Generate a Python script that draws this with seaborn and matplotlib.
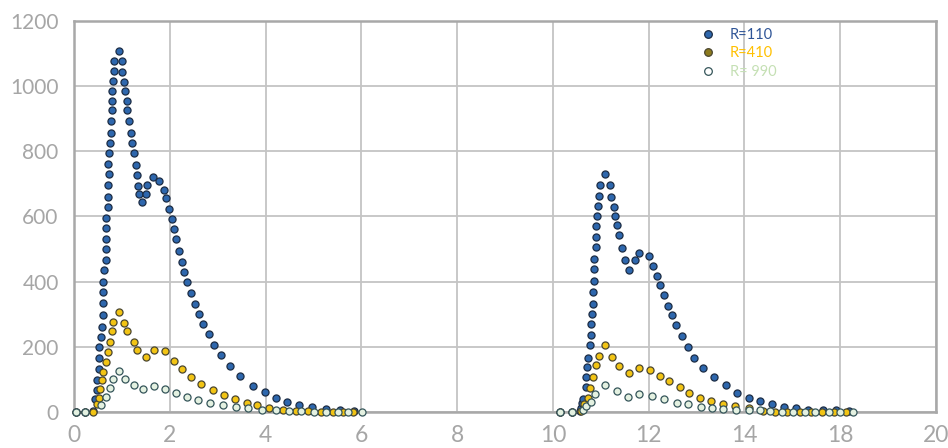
import matplotlib
matplotlib.use("Agg")
import matplotlib.pyplot as plt
from matplotlib.lines import Line2D
import numpy as np
import pandas as pd
import seaborn as sns

# ---- data -------------------------------------------------------------
# R = 110
r110_x = [0.04, 0.23, 0.40, 0.44, 0.47, 0.49, 0.53, 0.53, 0.53, 0.57, 0.59, 0.60, 0.60,
          0.61, 0.60, 0.63, 0.66, 0.66, 0.66, 0.66, 0.67, 0.70, 0.70, 0.72, 0.73, 0.72,
          0.73, 0.76, 0.77, 0.78, 0.80, 0.80, 0.80, 0.82, 0.84, 0.84, 0.93,
          1.01, 1.01, 1.05, 1.07, 1.10, 1.11, 1.14, 1.18, 1.22, 1.25, 1.30, 1.31, 1.33,
          1.36, 1.41, 1.50, 1.52, 1.64, 1.78, 1.87, 1.93, 1.99, 2.05, 2.08, 2.13, 2.19,
          2.25, 2.29, 2.36, 2.44, 2.53, 2.61, 2.69, 2.81, 2.93, 3.08, 3.25, 3.46, 3.73,
          3.99, 4.21, 4.44, 4.70, 4.97, 5.26, 5.56, 5.85,
          10.15, 10.40, 10.56, 10.59, 10.61, 10.62, 10.69, 10.69, 10.71, 10.74, 10.78,
          10.79, 10.79, 10.82, 10.84, 10.84, 10.85, 10.85, 10.86, 10.89, 10.90, 10.91,
          10.93, 10.94, 10.97, 10.99, 11.08,
          11.20, 11.22, 11.27, 11.30, 11.34, 11.39, 11.45, 11.51, 11.58, 11.71, 11.80,
          12.01, 12.09, 12.17, 12.24, 12.31, 12.40, 12.49, 12.57, 12.70, 12.82, 12.95,
          13.13, 13.36, 13.61, 13.85, 14.09, 14.33, 14.57, 14.83, 15.08, 15.33, 15.63,
          15.92, 16.18]
r110_y = [0, 0, 3, 41, 67, 98, 133, 165, 198, 231, 262, 298, 333,
          369, 400, 434, 465, 500, 532, 564, 595, 629, 659, 695, 729, 760,
          793, 826, 856, 893, 926, 955, 985, 1014, 1047, 1077, 1107,
          1075, 1043, 1011, 984, 955, 925, 893, 856, 824, 793, 758, 727, 694,
          670, 644, 670, 695, 721, 708, 682, 656, 624, 591, 561, 531, 493,
          459, 429, 398, 366, 332, 301, 269, 239, 206, 174, 142, 111, 80,
          61, 43, 31, 22, 16, 10, 5, 3,
          0, 0, 3, 13, 29, 39, 77, 106, 138, 167, 205,
          237, 270, 302, 331, 367, 403, 439, 470, 506, 538, 569,
          601, 631, 662, 697, 731,
          697, 659, 629, 600, 572, 542, 503, 467, 436, 467, 487,
          477, 448, 418, 388, 360, 326, 296, 268, 233, 200, 167,
          136, 106, 82, 59, 44, 34, 26, 15, 11, 7, 5,
          5, 3]

# R = 410
r410_x = [0.04, 0.23, 0.40, 0.49, 0.52, 0.54, 0.58, 0.61, 0.66, 0.70, 0.75, 0.79, 0.82,
          0.95, 1.04, 1.11, 1.25, 1.32, 1.50, 1.67, 1.91, 2.08, 2.26, 2.45, 2.65, 2.90,
          3.14, 3.36, 3.61, 3.82, 4.07, 4.36, 4.64, 4.89, 5.15, 5.40, 5.61, 5.82,
          10.15, 10.40, 10.59, 10.65, 10.73, 10.78, 10.84, 10.91, 10.97, 11.08, 11.23,
          11.39, 11.59, 11.80, 12.02, 12.23, 12.43, 12.65, 12.85, 13.08, 13.31, 13.56,
          13.81, 14.10, 14.38, 14.63, 14.89, 15.15, 15.38, 15.62, 15.86, 16.12]
r410_y = [0, 0, 1, 24, 44, 72, 98, 124, 154, 185, 216, 249, 275,
          306, 273, 247, 216, 189, 170, 191, 187, 157, 131, 108, 85, 68,
          52, 41, 29, 22, 12, 6, 3, 2, 0, 0, 0, 0,
          0, 0, 3, 24, 44, 75, 108, 144, 172, 205, 170,
          142, 121, 134, 129, 111, 95, 77, 59, 44, 34, 26,
          18, 11, 3, 1, 0, 0, 0, 0, 0, 0]

# R = 990
r990_x = [0.04, 0.23, 0.56, 0.66, 0.75, 0.81, 0.94, 1.06, 1.26, 1.44, 1.67, 1.89, 2.13,
          2.36, 2.59, 2.83, 3.11, 3.38, 3.64, 3.93, 4.21, 4.48, 4.74, 5.01, 5.26, 5.51,
          5.73, 6.01,
          10.15, 10.40, 10.62, 10.70, 10.79, 10.88, 11.08, 11.34, 11.57, 11.80, 12.08,
          12.33, 12.59, 12.83, 13.09, 13.33, 13.56, 13.83, 14.09, 14.32, 14.54, 14.78,
          15.01, 15.26, 15.48, 15.76, 16.00, 16.27]
r990_y = [0, 0, 20, 46, 73, 100, 125, 100, 82, 71, 80, 72, 58,
          46, 37, 29, 22, 16, 11, 5, 5, 2, 2, 0, 0, 0,
          0, 0,
          0, 0, 6, 18, 32, 55, 82, 65, 46, 54, 49,
          39, 29, 24, 16, 11, 8, 7, 5, 5, 3, 1,
          1, 0, 0, 0, 0, 0]

series_names = ["R=110", "R=410", "R= 990"]
x_tick_labels = ["0", "2", "4", "6", "8", "10", "12", "14", "18", "20"]
y_ticks = [0, 200, 400, 600, 800, 1000, 1200]

# ---- styling ----------------------------------------------------------
face_colors = ["#2e67ad", "#f2c414", "#e4f1e1"]
edge_colors = ["#1c2c44", "#4a4630", "#35555a"]
text_colors = ["#2f5597", "#ffc000", "#c5e0b4"]
legend_faces = ["#2e67ad", "#8c7a1e", "#ffffff"]
grid_gray = "#c4c4c4"
tick_gray = "#a6a6a6"

sns.set_style("white")
plt.rcParams["font.family"] = ["Lato", "DejaVu Sans"]

frames = []
for name, xs, ys in zip(series_names,
                        [r110_x, r410_x, r990_x],
                        [r110_y, r410_y, r990_y]):
    frames.append(pd.DataFrame({"x": xs, "y": ys, "series": name}))
df = pd.concat(frames, ignore_index=True)

fig = plt.figure(figsize=(9.48, 4.48), dpi=100)
ax = fig.add_axes([74 / 948, 36 / 448, 862 / 948, 391.3 / 448])

for name, fc, ec in zip(series_names, face_colors, edge_colors):
    sub = df[df["series"] == name]
    sns.scatterplot(data=sub, x="x", y="y", ax=ax, s=26, color=fc,
                    edgecolor=ec, linewidth=0.9, zorder=3, clip_on=False,
                    legend=False)

ax.set_xlim(0, 18)
ax.set_ylim(0, 1200)
ax.set_xticks(np.arange(0, 19, 2))
ax.set_xticklabels(x_tick_labels)
ax.set_yticks(y_ticks)
ax.set_xlabel("")
ax.set_ylabel("")

ax.grid(True, color=grid_gray, linewidth=1.3)
ax.set_axisbelow(True)
for sp in ax.spines.values():
    sp.set_visible(True)
    sp.set_color("#a8a8a8")
    sp.set_linewidth(1.8)

ax.tick_params(axis="y", length=0, pad=11, labelsize=15, labelcolor=tick_gray)
ax.tick_params(axis="x", length=0, pad=9, labelsize=16.5, labelcolor=tick_gray)
for lab in ax.get_xticklabels():
    lab.set_family(["Liberation Sans Narrow", "Lato", "DejaVu Sans"])

handles = [Line2D([], [], linestyle="none", marker="o", markersize=5.5,
                  markerfacecolor=f, markeredgecolor=e, markeredgewidth=0.9)
           for f, e in zip(legend_faces, edge_colors)]
leg = ax.legend(handles, series_names, loc="upper left",
                bbox_to_anchor=(0.71, 1.015), frameon=False, fontsize=10.5,
                handlelength=1.2, handletextpad=0.9, labelspacing=0.3,
                labelcolor=text_colors)

fig.savefig("out.png", dpi=100)
